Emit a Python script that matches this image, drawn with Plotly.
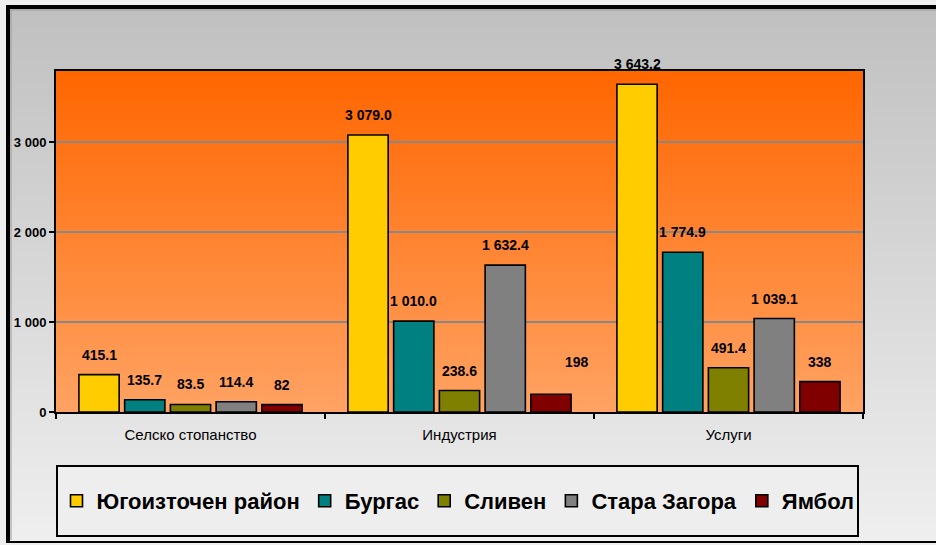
import plotly.graph_objects as go

# ---------------- data ----------------
categories = ["Селско стопанство", "Индустрия", "Услуги"]
series_names = ["Югоизточен район", "Бургас", "Сливен", "Стара Загора", "Ямбол"]
yugoiztochen = [415.1, 3079.0, 3643.2]
burgas = [135.7, 1010.0, 1774.9]
sliven = [83.5, 238.6, 491.4]
stara_zagora = [114.4, 1632.4, 1039.1]
yambol = [82, 198, 338]
label_yugoiztochen = ["415.1", "3 079.0", "3 643.2"]
label_burgas = ["135.7", "1 010.0", "1 774.9"]
label_sliven = ["83.5", "238.6", "491.4"]
label_stara_zagora = ["114.4", "1 632.4", "1 039.1"]
label_yambol = ["82", "198", "338"]
y_tickvals = [0, 1000, 2000, 3000]
y_ticktext = ["0", "1 000", "2 000", "3 000"]

values = [yugoiztochen, burgas, sliven, stara_zagora, yambol]
labels = [label_yugoiztochen, label_burgas, label_sliven, label_stara_zagora, label_yambol]
colors = ["#FFCC00", "#008080", "#808000", "#808080", "#800000"]

# ---------------- layout geometry ----------------
W, H = 936, 545
L, R, T, B = 56, 73, 71, 133
PW, PH = W - L - R, H - T - B
BARGAP = 0.15
BARGROUPGAP = 0.12


def px_x(px):
    return (px - L) / PW


def px_y(py):
    return (H - B - py) / PH


def lerp(c1, c2, t):
    return "rgb({},{},{})".format(*[round(a + (b - a) * t) for a, b in zip(c1, c2)])


fig = go.Figure()
for name, vals, col in zip(series_names, values, colors):
    fig.add_trace(go.Bar(
        name=name, x=categories, y=vals,
        marker=dict(color=col, line=dict(color="black", width=1.6)),
        hoverinfo="skip",
    ))

shapes = []
# grey paper gradient (bands overlap slightly to avoid seams)
top_g, bot_g = (192, 192, 192), (239, 239, 239)
y0p, y1p = 9, 542
step = 4
py = y0p
while py < y1p:
    t = (py - y0p) / (y1p - y0p)
    shapes.append(dict(type="rect", xref="paper", yref="paper", layer="below",
                       x0=px_x(9), x1=px_x(940), y0=px_y(py), y1=px_y(min(py + step + 2, y1p)),
                       fillcolor=lerp(top_g, bot_g, t), line=dict(width=0)))
    py += step
# orange plot gradient
top_o, bot_o = (255, 102, 0), (255, 163, 100)
n = 85
for i in range(n):
    t0 = i / n
    shapes.append(dict(type="rect", xref="x domain", yref="y domain", layer="below",
                       x0=0, x1=1, y0=1 - t0, y1=max(0, 1 - (i + 2) / n),
                       fillcolor=lerp(top_o, bot_o, t0), line=dict(width=0)))
# outer frame
shapes.append(dict(type="line", xref="paper", yref="paper", x0=px_x(8), x1=px_x(945),
                   y0=px_y(7), y1=px_y(7), line=dict(color="black", width=4)))
shapes.append(dict(type="line", xref="paper", yref="paper", x0=px_x(8), x1=px_x(8),
                   y0=px_y(5), y1=px_y(543), line=dict(color="black", width=4)))
shapes.append(dict(type="line", xref="paper", yref="paper", x0=px_x(6), x1=px_x(945),
                   y0=px_y(542), y1=px_y(542), line=dict(color="black", width=2)))
shapes.append(dict(type="line", xref="paper", yref="paper", x0=px_x(11), x1=px_x(945),
                   y0=px_y(10), y1=px_y(10), line=dict(color="#9a9a9a", width=1)))
shapes.append(dict(type="line", xref="paper", yref="paper", x0=px_x(11), x1=px_x(11),
                   y0=px_y(10), y1=px_y(540), line=dict(color="#9a9a9a", width=1)))
# legend box
shapes.append(dict(type="rect", xref="paper", yref="paper",
                   x0=px_x(57), x1=px_x(858), y0=px_y(466), y1=px_y(536),
                   fillcolor="#eeeeee", line=dict(color="black", width=2)))

# value labels
annotations = []
slot = (1 - BARGAP) / len(series_names)
nudges = {(4, 1): (26, 12)}
for j, labs in enumerate(labels):
    for i, (v, lab) in enumerate(zip(values[j], labs)):
        dx, dy = nudges.get((j, i), (0, 0))
        annotations.append(dict(
            x=i + (j - (len(series_names) - 1) / 2) * slot, y=v, xref="x", yref="y",
            text=lab, showarrow=False, yanchor="middle", xanchor="center",
            yshift=20 + dy, xshift=dx,
            font=dict(family="Arial, Liberation Sans", size=14, color="black", weight="bold"),
        ))

fig.update_layout(
    width=W, height=H,
    margin=dict(l=L, r=R, t=T, b=B, pad=0),
    paper_bgcolor="#eeeeee",
    plot_bgcolor="rgba(0,0,0,0)",
    barmode="group", bargap=BARGAP, bargroupgap=BARGROUPGAP,
    shapes=shapes, annotations=annotations,
    font=dict(family="Arial, Liberation Sans", color="black"),
    showlegend=True,
    legend=dict(orientation="h", x=px_x(458), xanchor="center", y=px_y(501), yanchor="middle",
                bgcolor="rgba(0,0,0,0)", borderwidth=0,
                font=dict(family="Arial, Liberation Sans", size=22, color="black", weight="bold"),
                itemwidth=30, traceorder="normal"),
    xaxis=dict(type="category", showgrid=False, showline=True, linecolor="black", linewidth=2,
               mirror=True, ticks="outside", tickson="boundaries", ticklen=5, tickwidth=2,
               tickcolor="black", ticklabelstandoff=8,
               tickfont=dict(family="Arial, Liberation Sans", size=15, color="black"),
               fixedrange=True),
    yaxis=dict(range=[0, 3790], tickvals=y_tickvals, ticktext=y_ticktext,
               showgrid=True, gridcolor="#888888", gridwidth=1.5,
               showline=True, linecolor="black", linewidth=2, mirror=True,
               ticks="outside", ticklen=5, tickwidth=2, tickcolor="black",
               tickfont=dict(family="Arial, Liberation Sans", size=13, color="black", weight="bold"),
               zeroline=False, fixedrange=True),
)

fig.write_html("out.html", config={"displayModeBar": False},
               post_script="document.body.style.margin='0';document.body.style.padding='0';")
